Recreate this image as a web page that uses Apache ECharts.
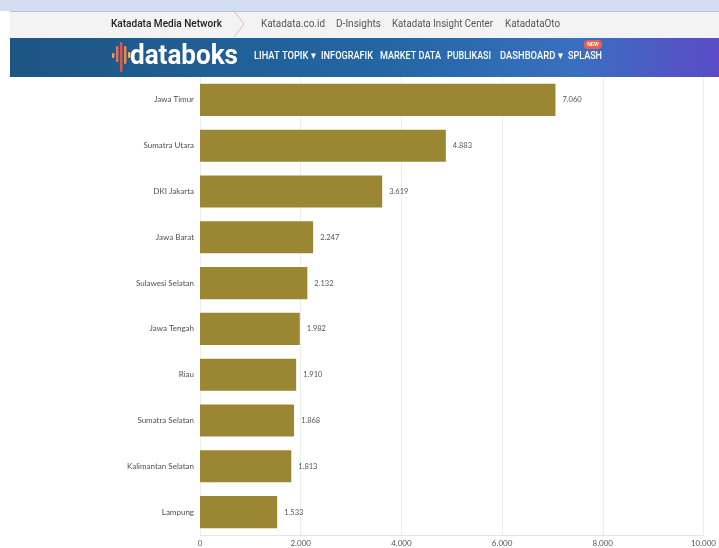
<!DOCTYPE html>
<html>
<head>
<meta charset="utf-8">
<script src="https://cdn.jsdelivr.net/npm/echarts@6/dist/echarts.min.js"></script>
<style>
  html, body { margin: 0; padding: 0; background: #fff; }
  #chart { width: 719px; height: 548px; }
</style>
</head>
<body>
<div id="chart"></div>
<script>
  // data
  var provinsi = ['Jawa Timur', 'Sumatra Utara', 'DKI Jakarta', 'Jawa Barat', 'Sulawesi Selatan',
    'Jawa Tengah', 'Riau', 'Sumatra Selatan', 'Kalimantan Selatan', 'Lampung'];
  var nilai = [7060, 4883, 3619, 2247, 2132, 1982, 1910, 1868, 1813, 1533];
  var networkLinks = ['Katadata.co.id', 'D-Insights', 'Katadata Insight Center', 'KatadataOto'];
  var menuItems = ['LIHAT TOPIK ▾', 'INFOGRAFIK', 'MARKET DATA', 'PUBLIKASI', 'DASHBOARD ▾', 'SPLASH'];

  // format angka pakai titik ribuan
  function fmt(v) {
    return String(v).replace(/\B(?=(\d{3})+(?!\d))/g, '.');
  }

  // teks header dipersempit supaya lebarnya pas
  var ctx = document.createElement('canvas').getContext('2d');
  function fitText(str, x, y, font, w, color) {
    ctx.font = font;
    var mw = ctx.measureText(str).width;
    return {
      type: 'text', x: x, y: y, scaleX: w / mw,
      style: { text: str, fill: color, font: font, verticalAlign: 'middle' }
    };
  }

  var chart = echarts.init(document.getElementById('chart'));

  var linkPos = [[261, 64], [336, 45], [392, 101], [505, 55]];
  var menuPos = [[254, 62], [321, 52], [380, 61], [447, 44], [500, 63], [568, 34]];
  var header = [
    { type: 'rect', shape: { x: 0, y: 0, width: 719, height: 11 }, style: { fill: '#d3def3' } },
    { type: 'rect', shape: { x: 10, y: 11, width: 709, height: 27 }, style: { fill: '#f3f3f4' } },
    { type: 'line', shape: { x1: 10, y1: 11.5, x2: 719, y2: 11.5 }, style: { stroke: '#b9c3d8', lineWidth: 1 } },
    { type: 'polyline', shape: { points: [[234, 11], [244, 24], [234, 37]] }, style: { stroke: '#e6b9bb', lineWidth: 1, fill: null } },
    fitText('Katadata Media Network', 111, 24, '500 11px Roboto', 111, '#222'),
    {
      type: 'rect', shape: { x: 10, y: 38, width: 709, height: 39 },
      style: {
        fill: new echarts.graphic.LinearGradient(0, 0, 1, 0, [
          { offset: 0, color: '#1d5583' },
          { offset: 0.55, color: '#2467a6' },
          { offset: 0.8, color: '#3a6fc0' },
          { offset: 1, color: '#5b4bc6' }
        ])
      }
    },
    fitText('databoks', 130, 57, 'bold 27px Roboto', 108, '#fff'),
    { type: 'rect', shape: { x: 584, y: 40, width: 18, height: 9, r: 4 }, style: { fill: '#e8604f' } },
    { type: 'text', x: 593, y: 44.5, style: { text: 'NEW', fill: '#fff', font: 'bold 5px sans-serif', align: 'center', verticalAlign: 'middle' } }
  ];
  // ikon logo
  var logoBars = [[112, 53, 5, '#f0a04b'], [116, 46, 16, '#e8704a'], [120, 42, 30, '#e2534a'], [124, 46, 18, '#f08a4b'], [128, 52, 6, '#f5b34d']];
  logoBars.forEach(function (b) {
    header.push({ type: 'rect', shape: { x: b[0], y: b[1], width: 2.4, height: b[2], r: 1 }, style: { fill: b[3] } });
  });
  networkLinks.forEach(function (t, i) {
    header.push(fitText(t, linkPos[i][0], 24, '10px Roboto', linkPos[i][1], '#555'));
  });
  menuItems.forEach(function (t, i) {
    header.push(fitText(t, menuPos[i][0], 56, '500 10.5px Roboto', menuPos[i][1], '#fff'));
  });

  chart.setOption({
    animation: false,
    backgroundColor: '#fff',
    graphic: header,
    grid: {
      left: 200,
      right: 15,
      top: 77,
      bottom: 13
    },
    xAxis: {
      type: 'value',
      min: 0,
      max: 10000,
      interval: 2000,
      axisLine: { show: true, lineStyle: { color: '#e6e6e6' } },
      axisTick: { show: false },
      splitLine: { lineStyle: { color: '#ececec' } },
      axisLabel: {
        color: '#555',
        fontSize: 8,
        margin: 4,
        fontFamily: 'Lato',
        formatter: function (v) { return fmt(v); }
      }
    },
    yAxis: {
      type: 'category',
      inverse: true,
      data: provinsi,
      axisLine: { show: false },
      axisTick: { show: false },
      axisLabel: {
        color: '#505050',
        fontSize: 8,
        margin: 6,
        fontFamily: 'Lato'
      }
    },
    series: [
      {
        type: 'bar',
        data: nilai,
        barCategoryGap: '30%',
        itemStyle: { color: '#9b8733' },
        label: {
          show: true,
          position: 'right',
          distance: 7,
          color: '#555',
          fontSize: 7.5,
          fontFamily: 'Lato',
          formatter: function (p) { return fmt(p.value); }
        }
      }
    ]
  });
</script>
</body>
</html>
